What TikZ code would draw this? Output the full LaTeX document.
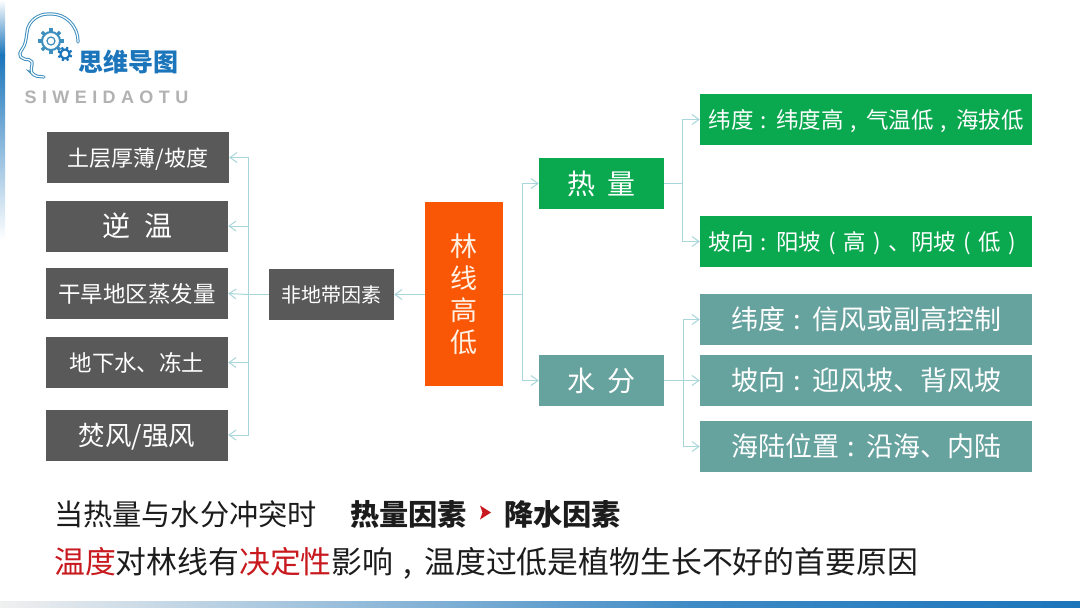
\documentclass[tikz,border=0pt]{standalone}
\usepackage{fontspec}
\usepackage{xcolor}
\usetikzlibrary{arrows.meta}
\setmainfont{Noto Sans CJK SC}
\newfontfamily\logofont[LetterSpace=30,BoldFont={* Bold}]{Liberation Sans}
\definecolor{darkc}{HTML}{595959}
\definecolor{greenc}{HTML}{0AA84F}
\definecolor{tealc}{HTML}{66A29E}
\definecolor{orangec}{HTML}{F95706}
\definecolor{linec}{HTML}{A9D6DA}
\definecolor{logoc}{HTML}{1B75BB}
\definecolor{headc}{HTML}{3E8FBE}
\definecolor{redc}{HTML}{C8191E}
\definecolor{inkc}{HTML}{1C1C1C}
\newcommand{\fs}[1]{\fontsize{#1}{#1}\selectfont}
\newcommand{\pu}[2][.33em]{\makebox[1em][l]{\hspace{#1}#2}}
\tikzset{
  ln/.style={linec,line width=1pt},
  ar/.style={-{Straight Barb[length=7pt,width=10pt]},linec,line width=1pt},
  box/.style={text=white,inner sep=0pt,align=center},
  low/.style={execute at begin node=\rule{0pt}{1em}},
  dk/.style={box,fill=darkc,minimum width=182pt,minimum height=51pt},
  gr/.style={box,low,fill=greenc,minimum width=332pt,minimum height=51pt},
  tl/.style={box,fill=tealc,minimum width=332pt,minimum height=51pt},
  mid/.style={box,minimum width=125pt,minimum height=51pt},
  txt/.style={anchor=west,inner sep=0pt,text=inkc}
}
\begin{document}
\begin{tikzpicture}[x=1pt,y=-1pt]
\useasboundingbox (0,0) rectangle (1080,608);
\fill[white] (0,0) rectangle (1080,608);
% page edges
\shade[top color=white,bottom color=logoc] (0,0) rectangle (5,55);
\shade[top color=logoc,bottom color=white] (0,55) rectangle (5,240);
\shade[left color=black!6,right color=logoc!85] (0,601) rectangle (700,608);
\shade[left color=logoc!85,right color=logoc] (700,601) rectangle (1080,608);
% logo
\draw[headc,line width=1pt,double=white,double distance=1.2pt,line cap=round,rounded corners=2pt]
  (78,42) .. controls (78,24) and (64,14) .. (50,14)
  .. controls (38,14) and (29,21) .. (27,32)
  .. controls (26,40) and (25,45) .. (22,49) -- (19,55) -- (23,59) -- (31,60)
  .. controls (33,64) and (30,70) .. (33,74) -- (35,76) -- (44,77);
\draw[headc,line width=2pt] (51,41) circle (9);
\draw[headc,line width=1.2pt] (51,41) circle (4);
\draw[logoc,line width=2pt] (65,54) circle (4.5);
\foreach \a in {0,45,...,315} {
  \draw[headc,line width=3.2pt] (51,41)++(\a:9) -- ++(\a:3.8);
  \draw[logoc,line width=2.2pt] (65,54)++(\a+20:4.5) -- ++(\a+20:2.8);
}
\node[inner sep=0pt,text=logoc,font=\fs{25}\bfseries] (logo) at (128.5,62) {思维导图};
\node[inner sep=0pt,text=black!30,font=\logofont\fs{18}\bfseries] (logoen) at (106.5,97) {SIWEIDAOTU};
% left branch
\node[dk,low,font=\fs{22}] (soil) at (138,157.5) {土层厚薄/坡度};
\node[dk,font=\fs{28}] (inv) at (137,226) {逆\hspace{.5em}温};
\node[dk,font=\fs{22.5}] (evap) at (137,293.5) {干旱地区蒸发量};
\node[dk,font=\fs{22.5}] (ground) at (137,362.5) {地下水、冻土};
\node[dk,low,font=\fs{26.5}] (wind) at (137,435) {焚风/强风};
\node[box,fill=darkc,minimum width=125pt,minimum height=51pt,font=\fs{20}] (azonal) at (331.5,294.5) {非地带因素};
\node[box,fill=orangec,minimum width=78pt,minimum height=184pt,font=\fs{27},text=white!90!orange] (root) at (464,294) {林\\[5pt]线\\[5pt]高\\[5pt]低};
% right branch
\node[mid,fill=greenc,font=\fs{28}] (heat) at (601.5,183.5) {热\hspace{.4em}量};
\node[mid,fill=tealc,font=\fs{28}] (water) at (601.5,380.5) {水\hspace{.4em}分};
\node[gr,font=\fs{22.5}] (lat) at (866,119.5) {纬度\pu{:}纬度高\pu{,}气温低\pu{,}海拔低};
\node[gr,font=\fs{22.5}] (slope) at (866,241.5) {坡向\pu{:}阳坡\pu{(}高\pu{)}、阴坡\pu{(}低\pu{)}};
\node[tl,font=\fs{27}] (latw) at (866,319.5) {纬度\pu{:}信风或副高控制};
\node[tl,font=\fs{27}] (slopew) at (866,380.5) {坡向\pu{:}迎风坡、背风坡};
\node[tl,font=\fs{27}] (sea) at (866,446.5) {海陆位置\pu{:}沿海、内陆};
% connectors
\coordinate (jl) at (248,294.5);
\coordinate (jm) at (522,294);
\coordinate (jh) at (682,183.5);
\coordinate (jw) at (683,380.5);
\draw[ar] (root.west |- azonal) -- (azonal.east);
\draw[ln] (azonal.west) -- (jl);
\draw[ar] (jl) |- (soil.east);
\draw[ar] (jl) |- (inv.east);
\draw[ar] (jl) -- (evap.east);
\draw[ar] (jl) |- (ground.east);
\draw[ar] (jl) |- (wind.east);
\draw[ln] (root.east) -- (jm);
\draw[ar] (jm) |- (heat.west);
\draw[ar] (jm) |- (water.west);
\draw[ln] (heat.east) -- (jh);
\draw[ar] (jh) |- (lat.west);
\draw[ar] (jh) |- (slope.west);
\draw[ln] (water.east) -- (jw);
\draw[ar] (jw) |- (latw.west);
\draw[ar] (jw) -- (slopew.west);
\draw[ar] (jw) |- (sea.west);
% bottom text
\node[txt,font=\fs{29.2}] (note) at (54,514) {当热量与水分冲突时};
\node[txt,font=\fs{29.2}\bfseries] (hf) at (350,514) {热量因素};
\fill[redc] (480,505.5) -- (491,512.5) -- (480,519.5) -- (482.5,512.5) -- cycle;
\node[txt,font=\fs{29.2}\bfseries] (rf) at (504,514) {降水因素};
\node[txt,font=\fs{30.85}] (line) at (54,563.5) {\textcolor{redc}{温度}对林线有\textcolor{redc}{决定性}影响\pu{,}温度过低是植物生长不好的首要原因};
\end{tikzpicture}
\end{document}
